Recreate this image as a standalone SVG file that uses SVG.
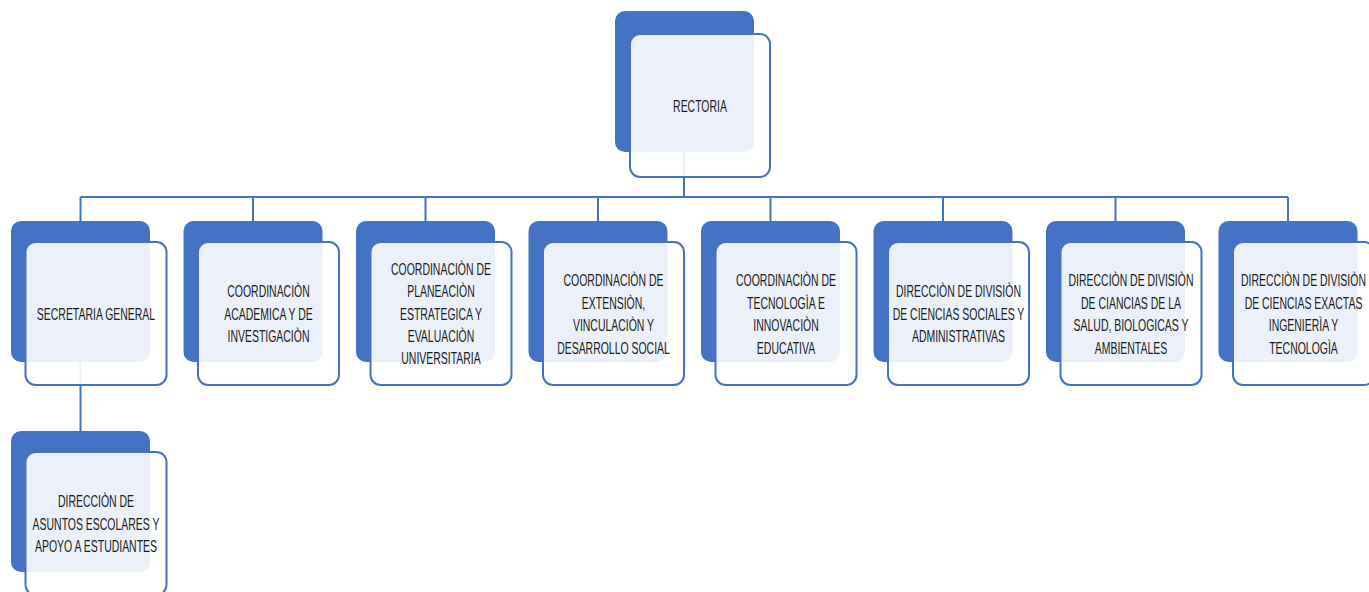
<svg xmlns="http://www.w3.org/2000/svg" width="1369" height="592" viewBox="0 0 1369 592">
<style>
.back{fill:#4472C4;}
.front{fill:#ffffff;fill-opacity:0.9;stroke:#4472C4;stroke-width:2;}
.conn{fill:none;stroke:#4472C4;stroke-width:2;}
.lbl{font-family:"Liberation Sans",Arial,sans-serif;font-size:17px;fill:#1a1a1a;text-anchor:middle;}
</style>
<rect width="1369" height="592" fill="#ffffff"/>
<g id="connectors">
<path class="conn" d="M684 152V197M80.5 197H1288M80.5 197V221M253 197V221M425.5 197V221M598 197V221M770.5 197V221M943 197V221M1115.5 197V221M1288 197V221M80.5 362V431"/>
</g>
<g id="rectoria">
<rect class="back" x="615" y="11" width="139" height="141" rx="10"/>
<rect class="front" x="630" y="34" width="140" height="143" rx="10"/>
<g class="lbl" transform="translate(700 105.5) scale(0.615 1)"><text x="0" y="6">RECTORIA</text></g>
</g>
<g id="secretaria">
<rect class="back" x="11" y="221" width="139" height="141" rx="10"/>
<rect class="front" x="25.5" y="242" width="141" height="143" rx="10"/>
<g class="lbl" transform="translate(96 313.5) scale(0.615 1)"><text x="0" y="6">SECRETARIA GENERAL</text></g>
</g>
<g id="coord-academica">
<rect class="back" x="183.5" y="221" width="139" height="141" rx="10"/>
<rect class="front" x="198" y="242" width="141" height="143" rx="10"/>
<g class="lbl" transform="translate(268.5 313.5) scale(0.615 1)"><text x="0" y="-16.5">COORDINACIÒN</text><text x="0" y="6">ACADEMICA Y DE</text><text x="0" y="28.5">INVESTIGACIÒN</text></g>
</g>
<g id="coord-planeacion">
<rect class="back" x="356" y="221" width="139" height="141" rx="10"/>
<rect class="front" x="370.5" y="242" width="141" height="143" rx="10"/>
<g class="lbl" transform="translate(441 313.5) scale(0.615 1)"><text x="0" y="-39">COORDINACIÒN DE</text><text x="0" y="-16.5">PLANEACIÒN</text><text x="0" y="6">ESTRATEGICA Y</text><text x="0" y="28.5">EVALUACIÒN</text><text x="0" y="51">UNIVERSITARIA</text></g>
</g>
<g id="coord-extension">
<rect class="back" x="528.5" y="221" width="139" height="141" rx="10"/>
<rect class="front" x="543" y="242" width="141" height="143" rx="10"/>
<g class="lbl" transform="translate(613.5 313.5) scale(0.615 1)"><text x="0" y="-28">COORDINACIÒN DE</text><text x="0" y="-5">EXTENSIÒN,</text><text x="0" y="18">VINCULACIÒN Y</text><text x="0" y="41">DESARROLLO SOCIAL</text></g>
</g>
<g id="coord-tecnologia">
<rect class="back" x="701" y="221" width="139" height="141" rx="10"/>
<rect class="front" x="715.5" y="242" width="141" height="143" rx="10"/>
<g class="lbl" transform="translate(786 313.5) scale(0.615 1)"><text x="0" y="-28">COORDINACIÒN DE</text><text x="0" y="-5">TECNOLOGÌA E</text><text x="0" y="18">INNOVACIÒN</text><text x="0" y="41">EDUCATIVA</text></g>
</g>
<g id="dir-sociales">
<rect class="back" x="873.5" y="221" width="139" height="141" rx="10"/>
<rect class="front" x="888" y="242" width="141" height="143" rx="10"/>
<g class="lbl" transform="translate(958.5 313.5) scale(0.615 1)"><text x="0" y="-16.5">DIRECCIÒN DE DIVISIÒN</text><text x="0" y="6">DE CIENCIAS SOCIALES Y</text><text x="0" y="28.5">ADMINISTRATIVAS</text></g>
</g>
<g id="dir-salud">
<rect class="back" x="1046" y="221" width="139" height="141" rx="10"/>
<rect class="front" x="1060.5" y="242" width="141" height="143" rx="10"/>
<g class="lbl" transform="translate(1131 313.5) scale(0.615 1)"><text x="0" y="-28">DIRECCIÒN DE DIVISIÒN</text><text x="0" y="-5">DE CIANCIAS DE LA</text><text x="0" y="18">SALUD, BIOLOGICAS Y</text><text x="0" y="41">AMBIENTALES</text></g>
</g>
<g id="dir-exactas">
<rect class="back" x="1218.5" y="221" width="139" height="141" rx="10"/>
<rect class="front" x="1233" y="242" width="141" height="143" rx="10"/>
<g class="lbl" transform="translate(1303.5 313.5) scale(0.615 1)"><text x="0" y="-28">DIRECCIÒN DE DIVISIÒN</text><text x="0" y="-5">DE CIENCIAS EXACTAS</text><text x="0" y="18">INGENIERÌA Y</text><text x="0" y="41">TECNOLOGÌA</text></g>
</g>
<g id="dir-asuntos">
<rect class="back" x="11" y="431" width="139" height="141" rx="10"/>
<rect class="front" x="25.5" y="452" width="141" height="143" rx="10"/>
<g class="lbl" transform="translate(96 523.5) scale(0.615 1)"><text x="0" y="-17">DIRECCIÒN DE</text><text x="0" y="6">ASUNTOS ESCOLARES Y</text><text x="0" y="29">APOYO A ESTUDIANTES</text></g>
</g>
</svg>
